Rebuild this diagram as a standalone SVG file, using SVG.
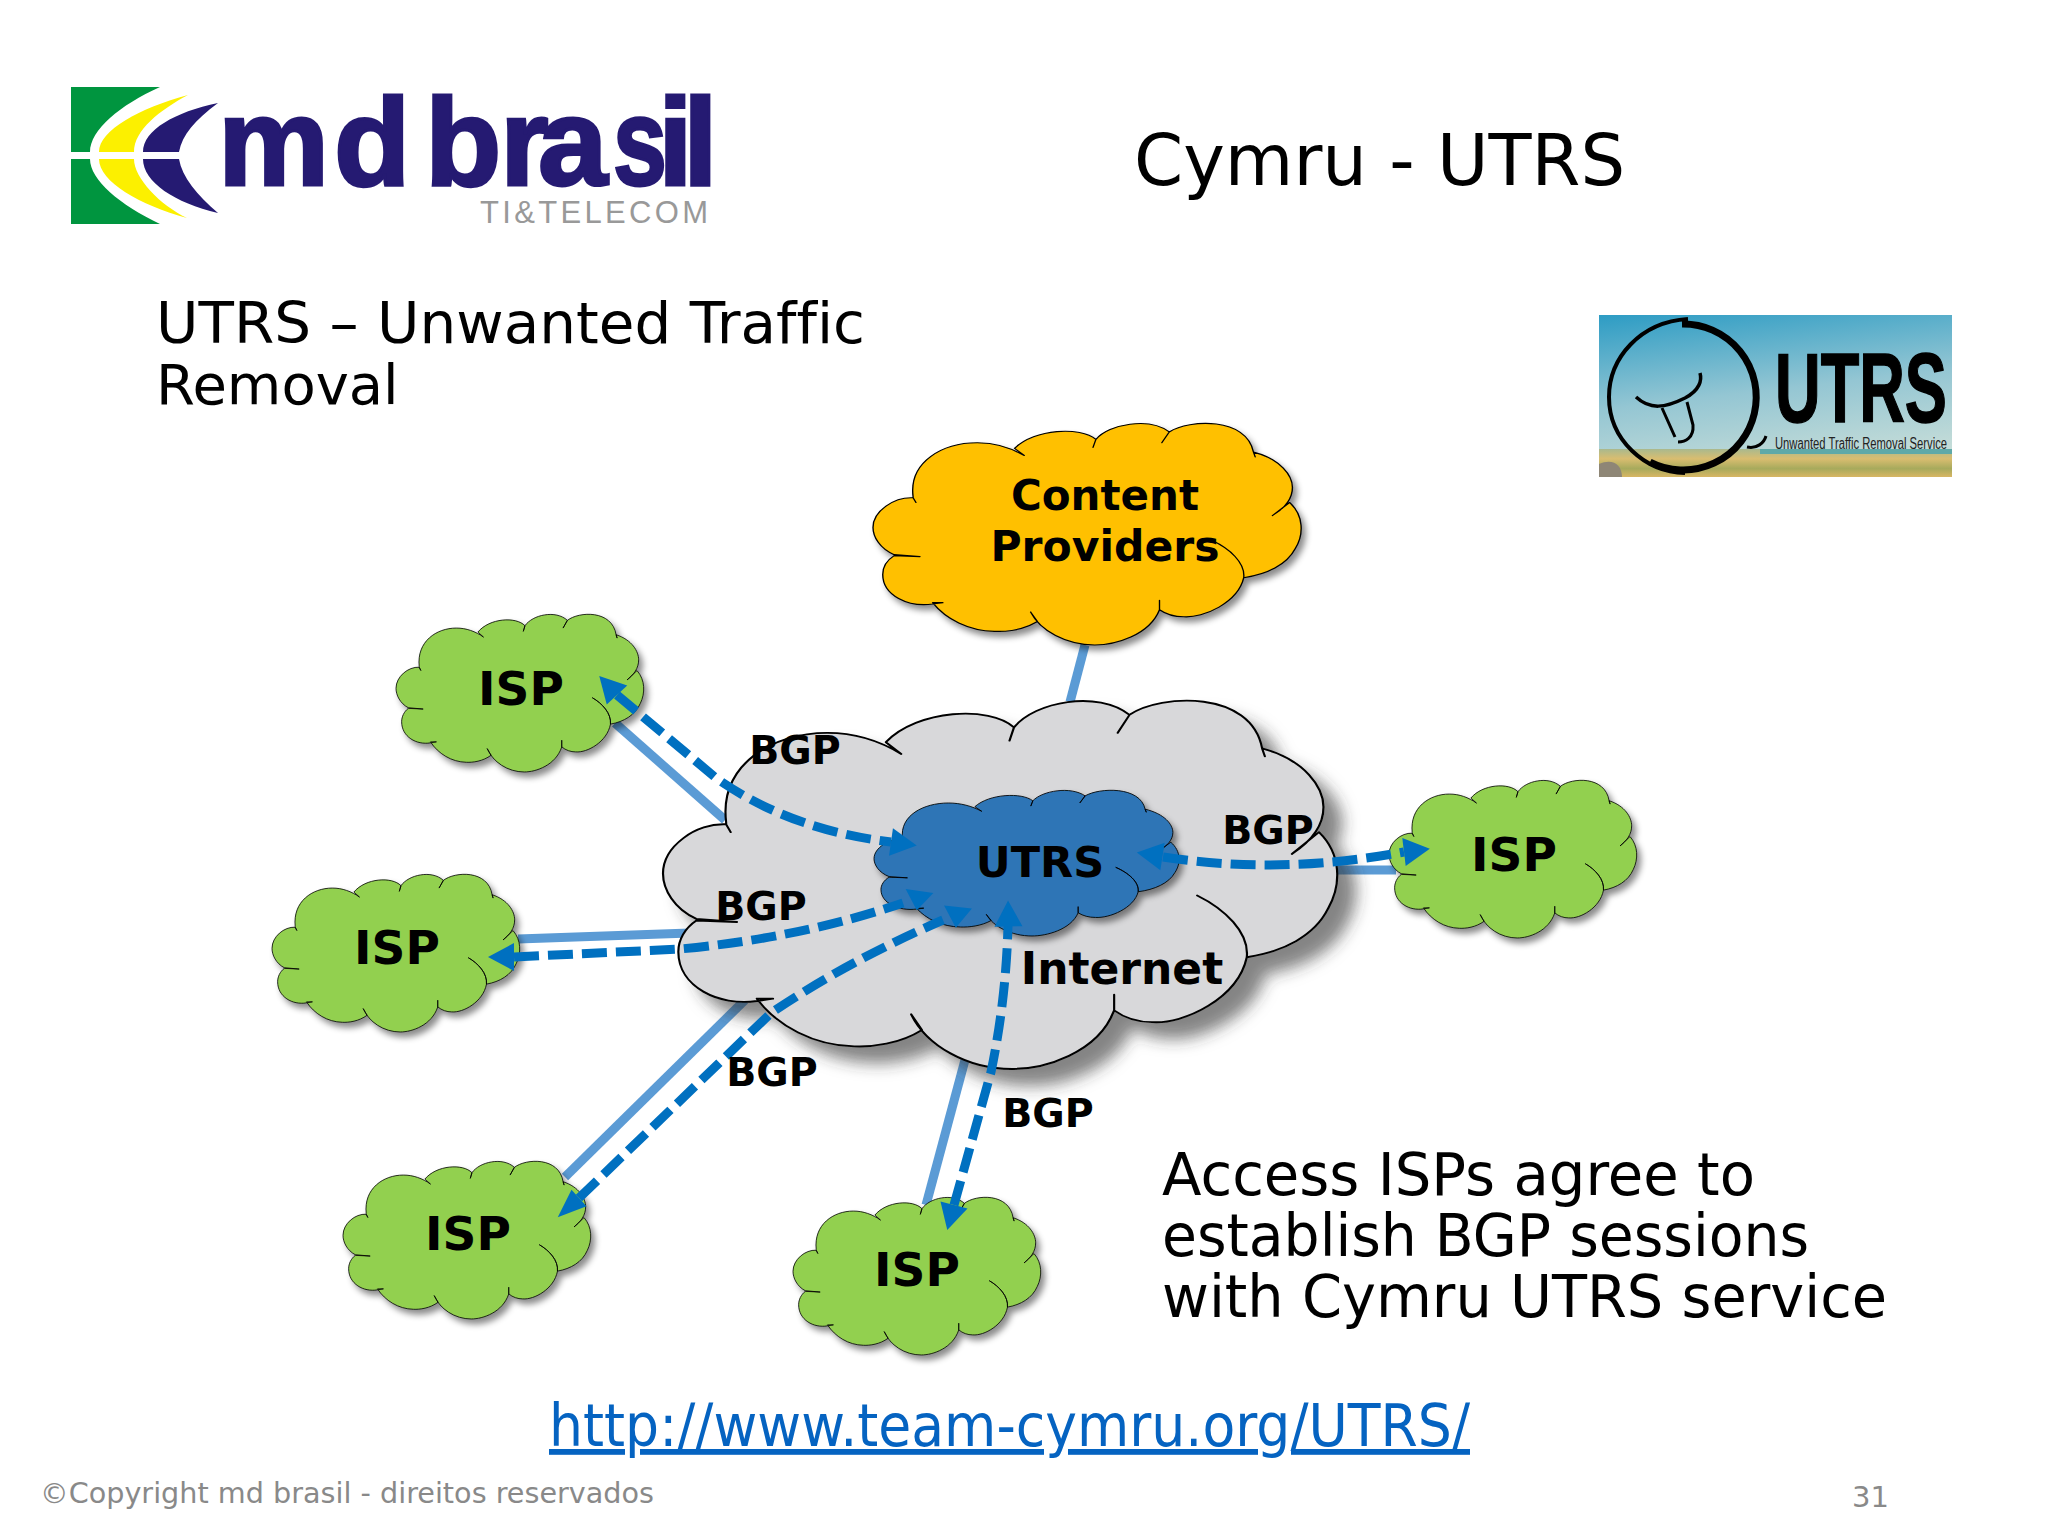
<svg xmlns="http://www.w3.org/2000/svg" xmlns:xlink="http://www.w3.org/1999/xlink" width="2048" height="1536" viewBox="0 0 2048 1536">
<style>
.cl{stroke:#000;stroke-width:2.4;stroke-linejoin:round;vector-effect:non-scaling-stroke}
.isp{fill:#92d050}.cp{fill:#ffc000}.inet{fill:#d8d8da}.ut{fill:#2e75b6}
.link{fill:none;stroke:#5b9bd5;stroke-width:9}
.bgp{fill:none;stroke:#0070c0;stroke-width:9;stroke-dasharray:25 9}
.head{fill:#0070c0}
.nl{font-family:"DejaVu Sans",sans-serif;font-weight:700;fill:#000;text-anchor:middle}
.t{font-family:"DejaVu Sans",sans-serif;fill:#000;font-size:58px;font-variant-ligatures:none}
.foot{font-family:"DejaVu Sans",sans-serif;fill:#898989;font-size:29px}
</style>
<defs>
<path id="cloud" d="M478,200C470,125 530,85 590,85C620,85 648,95 672,112L655,97C690,55 770,50 797,78L792,95L797,78C820,45 890,30 925,62L912,85L925,62C960,35 1060,30 1072,105L1075,115L1072,105C1120,120 1140,155 1140,180C1140,205 1125,225 1105,240L1135,212C1160,240 1160,280 1145,310C1130,345 1095,365 1055,372C1058,340 1030,310 1000,293C1030,310 1058,340 1055,372C1045,425 985,458 950,455C935,455 920,450 908,440L908,420L908,440C890,495 830,515 795,515C745,515 700,485 683,445L695,465C670,483 640,487 620,486C575,485 535,460 512,425L530,425L512,428C470,435 425,410 425,365C425,350 432,335 445,325L490,327L445,323C420,310 408,285 408,265C408,230 445,200 478,202L483,212L478,202Z"/>
<polygon id="head" points="0,-14 26,0 0,14"/>
<filter id="sh" x="-15%" y="-15%" width="130%" height="135%"><feDropShadow dx="4" dy="5" stdDeviation="3" flood-color="#000" flood-opacity="0.45"/></filter>
<filter id="shBig" x="-10%" y="-10%" width="125%" height="125%"><feDropShadow dx="18" dy="16" stdDeviation="8" flood-color="#333" flood-opacity="0.6"/></filter>
<linearGradient id="sky" x1="0" y1="0" x2="0.25" y2="1"><stop offset="0" stop-color="#2d9cc4"/><stop offset="0.55" stop-color="#94c6d3"/><stop offset="1" stop-color="#c4dcd8"/></linearGradient>
<linearGradient id="field" x1="0" y1="0" x2="0" y2="1"><stop offset="0" stop-color="#a9b98e"/><stop offset="0.35" stop-color="#d9bd70"/><stop offset="0.7" stop-color="#a7aa5c"/><stop offset="1" stop-color="#d8b664"/></linearGradient>
</defs>
<rect width="2048" height="1536" fill="#fff"/>

<g id="logo-mdbrasil">
<path fill="#00953f" d="M71,87H160C120,105 90,130 90,152H71ZM71,159H90C90,180 120,205 160,224H71Z"/>
<path fill="#fcf000" d="M188,95C140,108 99,130 99,152H134C134,130 160,110 188,95ZM99,159H134C134,178 160,205 187,218C140,205 99,182 99,159Z"/>
<path fill="#251a72" d="M218,103C175,112 143,130 143,152H179C182,135 195,120 218,103ZM143,159H179C182,177 197,195 218,213C175,203 143,182 143,159Z"/>
<text y="185" font-family="Liberation Sans,sans-serif" font-weight="700" font-size="125" fill="#251a72" stroke="#251a72" stroke-width="3"><tspan x="218 334 410 425 500 538">md bra</tspan><tspan x="613" textLength="54" lengthAdjust="spacingAndGlyphs">s</tspan><tspan x="658 683">il</tspan></text>
<text x="480" y="223" font-family="Liberation Sans,sans-serif" font-size="31" fill="#999" textLength="228" lengthAdjust="spacing">TI&amp;TELECOM</text>
</g>

<text class="t" x="1134" y="185" style="font-size:70.4px">Cymru - UTRS</text>
<text class="t" x="156" y="343" style="font-size:57px" textLength="709" lengthAdjust="spacingAndGlyphs">UTRS – Unwanted Traffic</text>
<text class="t" x="156" y="404" style="font-size:56px">Removal</text>

<g id="logo-utrs">
<rect x="1599" y="315" width="353" height="162" fill="url(#sky)"/>
<rect x="1599" y="449" width="353" height="28" fill="url(#field)"/>
<rect x="1760" y="449" width="192" height="5" fill="#5fa9a8"/>
<path d="M1599,464C1612,458 1622,464 1622,477H1599Z" fill="#8e8676"/>
<path d="M1682,324A73,73 0 1 1 1650,462" fill="none" stroke="#000" stroke-width="7"/>
<path d="M1688,319C1640,322 1609,358 1609,397C1609,440 1645,472 1685,473" fill="none" stroke="#000" stroke-width="4"/>
<path d="M1747,447C1757,449 1764,443 1766,436" fill="none" stroke="#000" stroke-width="3"/>
<path d="M1636,397C1650,410 1665,408 1685,398C1700,390 1702,380 1700,373" fill="none" stroke="#000" stroke-width="3.5"/>
<path d="M1662,408L1675,437M1687,402L1693,425C1694,438 1685,442 1678,442" fill="none" stroke="#000" stroke-width="3"/>
<text x="1775" y="422" font-family="Liberation Sans,sans-serif" font-weight="700" font-size="98" fill="#000" stroke="#000" stroke-width="1.5" textLength="172" lengthAdjust="spacingAndGlyphs">UTRS</text>
<text x="1775" y="449" font-family="Liberation Sans,sans-serif" font-size="16" fill="#222" textLength="172" lengthAdjust="spacingAndGlyphs">Unwanted Traffic Removal Service</text>
</g>

<g id="links">
<path class="link" d="M1085,645L1070,702"/>
<path class="link" d="M615,723L725,820"/>
<path class="link" d="M518,939L690,933"/>
<path class="link" d="M565,1177L745,1000"/>
<path class="link" d="M926,1205L965,1060"/>
<path class="link" d="M1335,870H1396"/>
</g>

<g id="internet" filter="url(#shBig)"><use href="#cloud" class="cl inet" transform="translate(663,700) scale(0.9023,0.7818) translate(-408,-43)"/></g>
<g id="content-providers" filter="url(#sh)"><use href="#cloud" class="cl cp" transform="translate(873,423) scale(0.573,0.4703) translate(-408,-43)"/></g>
<g id="utrs" filter="url(#sh)"><use href="#cloud" class="cl ut" transform="translate(874,790) scale(0.4083,0.3093) translate(-408,-43)"/></g>
<g id="isp1" filter="url(#sh)"><use href="#cloud" class="cl isp" transform="translate(396,614) scale(0.3315,0.3347) translate(-408,-43)"/></g>
<g id="isp2" filter="url(#sh)"><use href="#cloud" class="cl isp" transform="translate(272,874) scale(0.3315,0.3347) translate(-408,-43)"/></g>
<g id="isp3" filter="url(#sh)"><use href="#cloud" class="cl isp" transform="translate(343,1161) scale(0.3315,0.3347) translate(-408,-43)"/></g>
<g id="isp4" filter="url(#sh)"><use href="#cloud" class="cl isp" transform="translate(793,1197) scale(0.3315,0.3347) translate(-408,-43)"/></g>
<g id="isp5" filter="url(#sh)"><use href="#cloud" class="cl isp" transform="translate(1389,780) scale(0.3315,0.3347) translate(-408,-43)"/></g>

<g id="connectors">
<path class="bgp" d="M617,695L716,778Q790,830 891,842"/>
<path class="bgp" d="M514,957L680,949Q800,938 903,903"/>
<path class="bgp" d="M579,1198L771,1013Q850,960 943,920"/>
<path class="bgp" d="M954,1205L991,1072Q1006,1000 1008,926"/>
<path class="bgp" d="M1163,857Q1280,875 1404,852"/>
<use href="#head" class="head" transform="translate(617,695) rotate(-133)"/>
<use href="#head" class="head" transform="translate(891,842) rotate(8)"/>
<use href="#head" class="head" transform="translate(514,957) rotate(180)"/>
<use href="#head" class="head" transform="translate(919.5,891) rotate(98) scale(0.75,1)"/>
<use href="#head" class="head" transform="translate(958,907) rotate(96) scale(0.8,1)"/>
<use href="#head" class="head" transform="translate(579,1198) rotate(138) scale(1.1,0.8)"/>
<use href="#head" class="head" transform="translate(954,1205) rotate(105)"/>
<use href="#head" class="head" transform="translate(1008.5,926.5) rotate(-91)"/>
<use href="#head" class="head" transform="translate(1162.5,856.5) rotate(189)"/>
<use href="#head" class="head" transform="translate(1404,852) rotate(-7)"/>
</g>

<g id="labels">
<text class="nl" x="1105" y="510" font-size="42">Content</text>
<text class="nl" x="1105" y="561" font-size="42.5">Providers</text>
<text class="nl" x="1040" y="877" font-size="43">UTRS</text>
<text class="nl" x="1122" y="984" font-size="44">Internet</text>
<text class="nl" x="521" y="705" font-size="47">ISP</text>
<text class="nl" x="397" y="964" font-size="47">ISP</text>
<text class="nl" x="468" y="1250" font-size="47">ISP</text>
<text class="nl" x="917" y="1286" font-size="47">ISP</text>
<text class="nl" x="1514" y="871" font-size="47">ISP</text>
<text class="nl" x="795" y="764" font-size="39.5">BGP</text>
<text class="nl" x="1268" y="844" font-size="39.5">BGP</text>
<text class="nl" x="761" y="920" font-size="39.5">BGP</text>
<text class="nl" x="772" y="1086" font-size="39.5">BGP</text>
<text class="nl" x="1048" y="1127" font-size="39.5">BGP</text>
</g>

<text class="t" x="1162" y="1195" textLength="593" lengthAdjust="spacingAndGlyphs">Access ISPs agree to</text>
<text class="t" x="1162" y="1256" textLength="647" lengthAdjust="spacingAndGlyphs">establish BGP sessions</text>
<text class="t" x="1162" y="1317" textLength="725" lengthAdjust="spacingAndGlyphs">with Cymru UTRS service</text>
<text class="t" x="549" y="1446" style="fill:#0563c1;text-decoration:underline" textLength="921" lengthAdjust="spacingAndGlyphs">http://www.team-cymru.org/UTRS/</text>
<text class="foot" x="40" y="1503" textLength="614" lengthAdjust="spacingAndGlyphs">©Copyright md brasil - direitos reservados</text>
<text class="foot" x="1852" y="1507">31</text>
</svg>
